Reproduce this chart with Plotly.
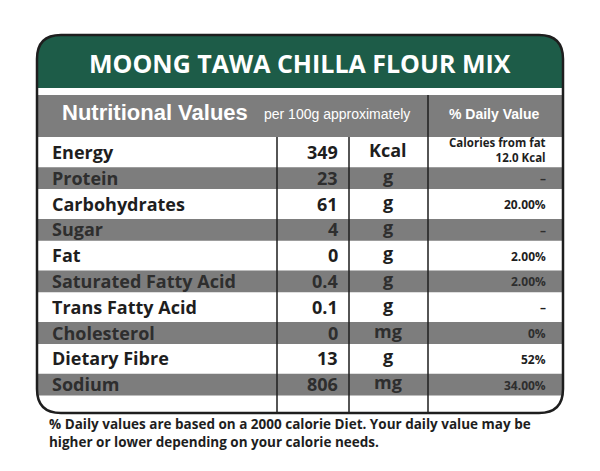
import plotly.graph_objects as go

title = "MOONG TAWA CHILLA FLOUR MIX"
nutrients = ["Energy", "Protein", "Carbohydrates", "Sugar", "Fat", "Saturated Fatty Acid",
             "Trans Fatty Acid", "Cholesterol", "Dietary Fibre", "Sodium"]
amounts = ["349", "23", "61", "4", "0", "0.4", "0.1", "0", "13", "806"]
units = ["Kcal", "g", "g", "g", "g", "g", "g", "mg", "g", "mg"]
daily = ["Calories from fat<br>12.0 Kcal", "–", "20.00%", "–", "2.00%", "2.00%", "–", "0%", "52%", "34.00%"]
footnote = "% Daily values are based on a 2000 calorie Diet. Your daily value may be<br>higher or lower depending on your calorie needs."

W, H = 600, 471
OFF = 8  # page body margin compensation
L, R, T, B = 37, 563, 35, 413
rad = 24
GREEN = "#1d5c48"; GRAY = "#7d7d7d"; DARK = "#1e1e1e"
FONT = "Open Sans"

fig = go.Figure()
shapes = []
shapes.append(dict(type="path", xref="x", yref="y", line=dict(width=0), fillcolor=GREEN,
    path=f"M {L},88 L {L},{T+rad} Q {L},{T} {L+rad},{T} L {R-rad},{T} Q {R},{T} {R},{T+rad} L {R},88 Z"))
shapes.append(dict(type="rect", xref="x", yref="y", x0=L, x1=R, y0=95, y1=137, fillcolor=GRAY, line=dict(width=0)))
row_top = 137.5; row_h = 25.8
for i, n in enumerate(nutrients):
    y0 = row_top + i * row_h
    if i % 2 == 1:
        shapes.append(dict(type="rect", xref="x", yref="y", x0=L, x1=R, y0=y0 + 4, y1=y0 + row_h,
                           fillcolor=GRAY, line=dict(width=0), layer="below"))
for xv, y0 in [(277, 137), (349, 137), (428, 95)]:
    shapes.append(dict(type="line", xref="x", yref="y", x0=xv, x1=xv, y0=y0, y1=B, line=dict(color=DARK, width=1.5)))
shapes.append(dict(type="path", xref="x", yref="y", line=dict(color=DARK, width=2.5),
    path=f"M {L},{T+rad} Q {L},{T} {L+rad},{T} L {R-rad},{T} Q {R},{T} {R},{T+rad} L {R},{B-rad} Q {R},{B} {R-rad},{B} L {L+rad},{B} Q {L},{B} {L},{B-rad} Z"))

ann = []
ann.append(dict(x=300, y=63, text=f"<b>{title}</b>", font=dict(size=25, color="white", family=FONT), showarrow=False))
ann.append(dict(x=60, y=112, xanchor="left", text="<b>Nutritional Values</b>", font=dict(size=22, color="white", family="Liberation Sans"), showarrow=False))
ann.append(dict(x=262, y=114, xanchor="left", text="per 100g approximately", font=dict(size=14, color="white", family="Liberation Sans"), showarrow=False))
ann.append(dict(x=494, y=114, text="<b>% Daily Value</b>", font=dict(size=14, color="white", family="Liberation Sans"), showarrow=False))
for i in range(len(nutrients)):
    yc = row_top + i * row_h + row_h / 2 + 1.5
    col = DARK if i % 2 == 0 else "#2e2e2e"
    ann.append(dict(x=50, y=yc, xanchor="left", text=f"<b>{nutrients[i]}</b>", font=dict(size=18, color=col, family=FONT), showarrow=False))
    ann.append(dict(x=340, y=yc, xanchor="right", text=f"<b>{amounts[i]}</b>", font=dict(size=18, color=col, family=FONT), showarrow=False))
    ann.append(dict(x=388, y=yc - 2, text=f"<b>{units[i]}</b>", font=dict(size=18, color=col, family=FONT), showarrow=False))
    if i == 0:
        ann.append(dict(x=548, y=yc - 2, xanchor="right", text=f"<b>{daily[i]}</b>", font=dict(size=11.5, color=col, family=FONT),
                        showarrow=False, align="right"))
    else:
        ann.append(dict(x=548, y=yc + 1, xanchor="right", text=f"<b>{daily[i]}</b>", font=dict(size=12, color=col, family=FONT), showarrow=False))
ann.append(dict(x=47, y=433, xanchor="left", align="left", text=f"<b>{footnote}</b>",
                font=dict(size=13.5, color=DARK, family=FONT), showarrow=False))

fig.update_layout(width=W, height=H, margin=dict(l=0, r=0, t=0, b=0), shapes=shapes, annotations=ann,
                  plot_bgcolor="white", paper_bgcolor="white", showlegend=False,
                  xaxis=dict(range=[OFF, W + OFF], visible=False, fixedrange=True),
                  yaxis=dict(range=[H + OFF, OFF], visible=False, fixedrange=True))
fig.write_html("out.html", config=dict(displayModeBar=False))
